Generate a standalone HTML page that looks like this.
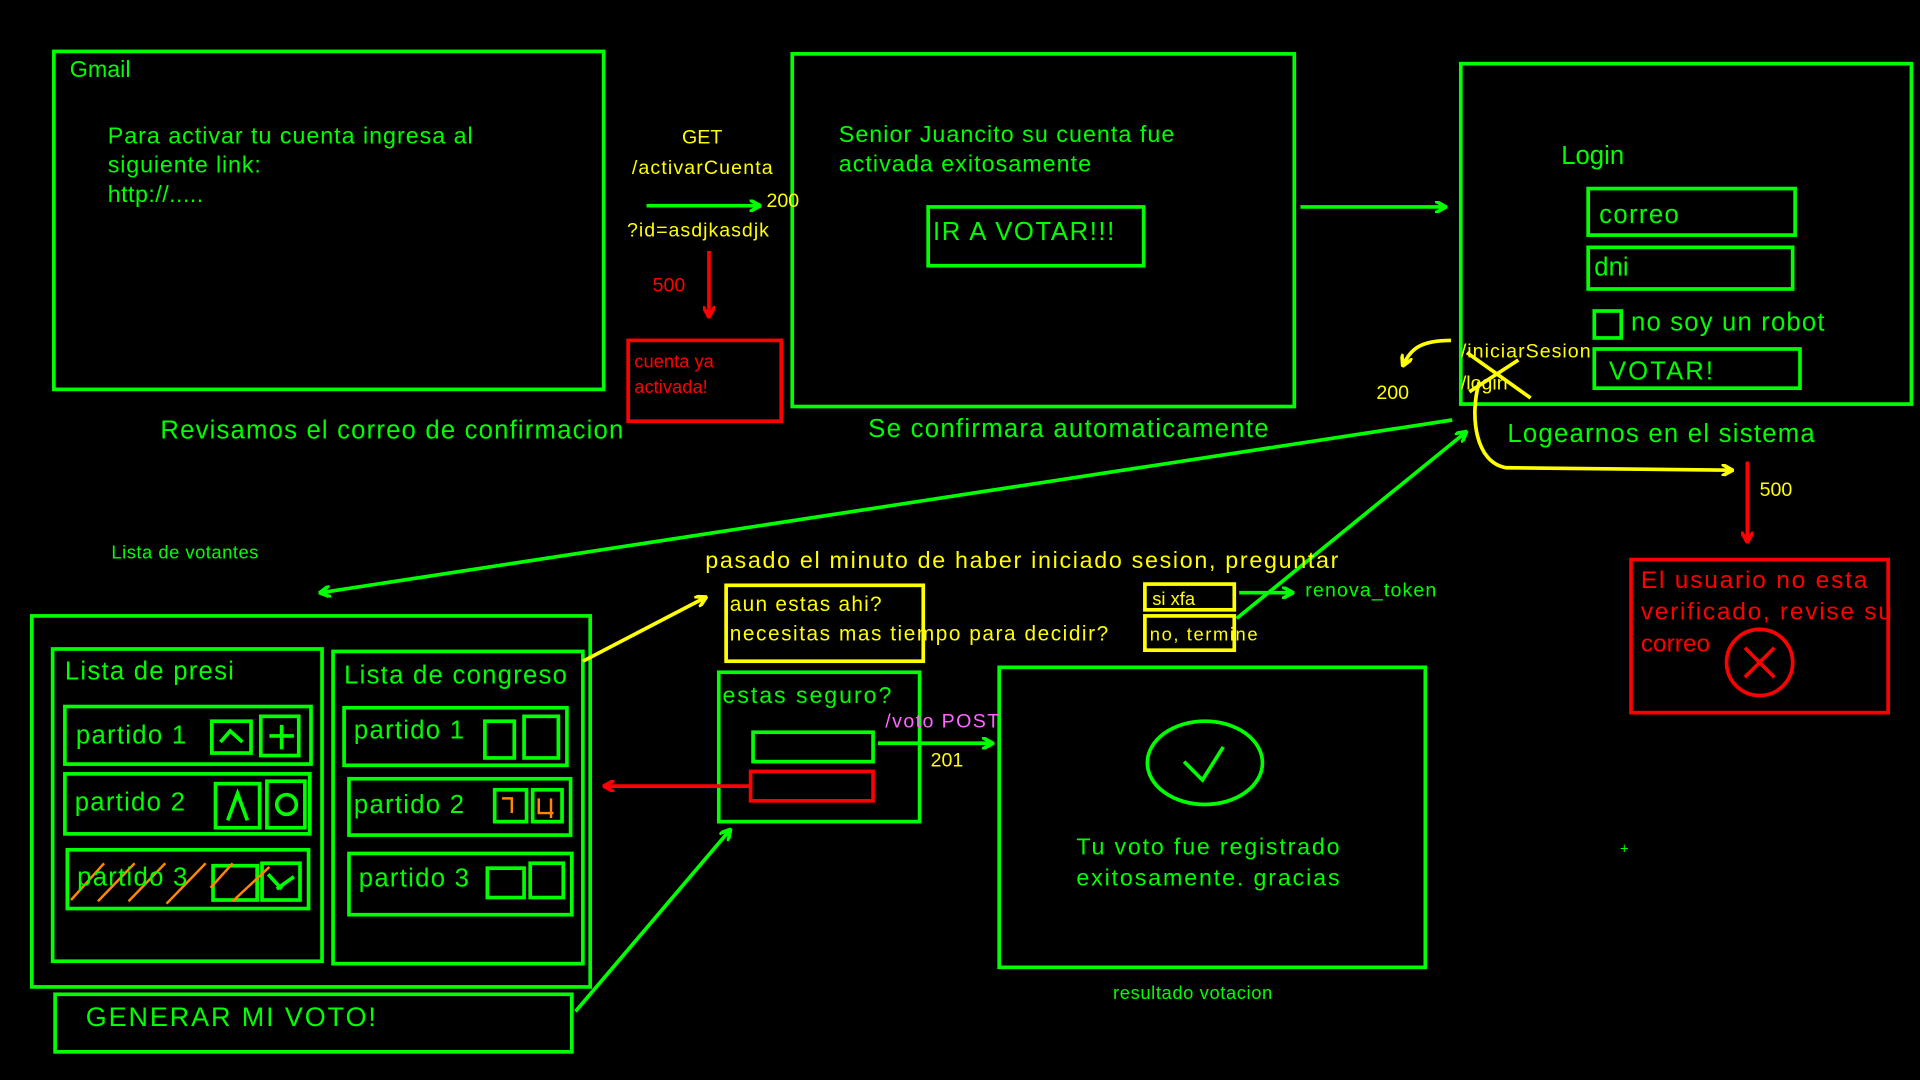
<!DOCTYPE html>
<html><head><meta charset="utf-8"><style>html,body{margin:0;padding:0;background:#000;overflow:hidden}svg{display:block}text{font-family:"Liberation Sans",sans-serif}</style></head>
<body>
<svg width="1920" height="1080" viewBox="0 0 1568 882" xmlns="http://www.w3.org/2000/svg">
<defs>
<marker id="ag" markerWidth="10" markerHeight="10" refX="8" refY="5" orient="auto" markerUnits="userSpaceOnUse"><path d="M0,0 L9,5 L0,10" fill="none" stroke="#00ff00" stroke-width="3"/></marker>
<marker id="ar" markerWidth="10" markerHeight="10" refX="8" refY="5" orient="auto" markerUnits="userSpaceOnUse"><path d="M0,0 L9,5 L0,10" fill="none" stroke="#ff0000" stroke-width="3"/></marker>
<marker id="ay" markerWidth="10" markerHeight="10" refX="8" refY="5" orient="auto" markerUnits="userSpaceOnUse"><path d="M0,0 L9,5 L0,10" fill="none" stroke="#ffff00" stroke-width="3"/></marker>
</defs>
<rect width="1568" height="882" fill="#000"/>
<g fill="none" stroke="#00ff00" stroke-width="3">
<rect x="44" y="42" width="449" height="276"/>
<rect x="647" y="44" width="410" height="288"/>
<rect x="758" y="169" width="176" height="48"/>
<rect x="1193" y="52" width="368" height="278"/>
<rect x="1297" y="154" width="169" height="38"/>
<rect x="1297" y="202" width="167" height="34"/>
<rect x="1302" y="254" width="22" height="22"/>
<rect x="1302" y="285" width="168" height="32"/>
<rect x="26" y="503" width="456" height="303"/>
<rect x="43" y="530" width="220" height="255"/>
<rect x="272" y="532" width="204" height="255"/>
<rect x="53" y="577" width="201" height="47"/>
<rect x="173" y="589" width="32" height="26"/>
<rect x="213" y="585" width="31" height="32"/>
<rect x="53" y="632" width="200" height="49"/>
<rect x="176" y="640" width="36" height="36"/>
<rect x="218" y="638" width="31" height="38"/>
<rect x="55" y="694" width="197" height="48"/>
<rect x="174" y="707" width="36" height="28"/>
<rect x="214" y="705" width="31" height="30"/>
<rect x="281" y="578" width="182" height="47"/>
<rect x="396" y="589" width="24" height="30"/>
<rect x="428" y="585" width="28" height="34"/>
<rect x="285" y="636" width="181" height="46"/>
<rect x="404" y="645" width="26" height="26"/>
<rect x="435" y="645" width="24" height="26"/>
<rect x="285" y="697" width="182" height="50"/>
<rect x="398" y="709" width="30" height="24"/>
<rect x="433" y="705" width="27" height="28"/>
<rect x="45" y="812" width="422" height="47"/>
<rect x="587" y="549" width="164" height="122"/>
<rect x="615" y="598" width="98" height="24"/>
<rect x="816" y="545" width="348" height="245"/>
<ellipse cx="984" cy="623" rx="47" ry="34"/>
<path d="M967,622 L982,637 L999,610"/>
<path d="M180,606 L188,597 L198,606 M230,592 L230,612 M220,601 L240,601 M186,670 L194,648 L202,670 M219,714 L230,726 M226,726 L240,716"/>
<circle cx="234" cy="657" r="8"/>
</g>
<g fill="none" stroke="#ff0000" stroke-width="3">
<rect x="513" y="278" width="125" height="66"/>
<rect x="1332" y="457" width="210" height="125"/>
<rect x="613" y="630" width="100" height="24"/>
<circle cx="1437" cy="541" r="27"/>
<path d="M1425,529 L1449,553 M1449,529 L1425,553"/>
</g>
<g fill="none" stroke="#ffff00" stroke-width="3">
<rect x="593" y="478" width="161" height="62"/>
<rect x="935" y="477" width="73" height="21"/>
<rect x="935" y="503" width="73" height="28"/>
</g>
<g fill="none" stroke="#ff8800" stroke-width="2">
<path d="M58,735 L85,705 M80,736 L110,705 M105,736 L135,705 M136,738 L168,705 M172,725 L190,705 M190,736 L220,708"/>
<path d="M410,652 L418,652 L418,664 M440,652 L440,664 L452,664 M450,652 L450,668"/>
</g>
<g fill="none" stroke-width="3">
<path d="M528,168 L620,168" stroke="#00ff00" marker-end="url(#ag)"/>
<path d="M579,205 L579,258" stroke="#ff0000" marker-end="url(#ar)"/>
<path d="M1062,169 L1180,169" stroke="#00ff00" marker-end="url(#ag)"/>
<path d="M1186,343 L262,484" stroke="#00ff00" marker-end="url(#ag)"/>
<path d="M1010,505 L1197,353" stroke="#00ff00" marker-end="url(#ag)"/>
<path d="M1012,484 L1055,484" stroke="#00ff00" marker-end="url(#ag)"/>
<path d="M470,826 L596,678" stroke="#00ff00" marker-end="url(#ag)"/>
<path d="M717,607 L810,607" stroke="#00ff00" marker-end="url(#ag)"/>
<path d="M612,642 L494,642" stroke="#ff0000" marker-end="url(#ar)"/>
<path d="M1427,377 L1427,442" stroke="#ff0000" marker-end="url(#ar)"/>
<path d="M476,540 L576,488" stroke="#ffff00" marker-end="url(#ay)"/>
<path d="M1185,278 C1160,278 1152,285 1146,298" stroke="#ffff00" marker-end="url(#ay)"/>
<path d="M1208,312 C1200,340 1205,378 1230,382 L1414,384" stroke="#ffff00" marker-end="url(#ay)"/>
<path d="M1198,288 L1250,325 M1200,320 L1240,294" stroke="#ffff00"/>
</g>
<g fill="#00ff00" font-size="19">
<text x="57" y="63">Gmail</text>
<text x="88" y="117" textLength="298">Para activar tu cuenta ingresa al</text>
<text x="88" y="141" textLength="125">siguiente link:</text>
<text x="88" y="165" textLength="78">http://.....</text>
<text x="131" y="358" font-size="21" textLength="378">Revisamos el correo de confirmacion</text>
<text x="685" y="116" textLength="274">Senior Juancito su cuenta fue</text>
<text x="685" y="140" textLength="206">activada exitosamente</text>
<text x="762" y="196" font-size="21" textLength="148">IR A VOTAR!!!</text>
<text x="709" y="357" font-size="21" textLength="327">Se confirmara automaticamente</text>
<text x="1275" y="134" font-size="21">Login</text>
<text x="1306" y="182" font-size="21" textLength="65">correo</text>
<text x="1302" y="225" font-size="21">dni</text>
<text x="1332" y="270" font-size="21" textLength="158">no soy un robot</text>
<text x="1314" y="310" font-size="21" textLength="85">VOTAR!</text>
<text x="1231" y="361" font-size="21" textLength="251">Logearnos en el sistema</text>
<text x="91" y="456" font-size="15" textLength="120">Lista de votantes</text>
<text x="53" y="555" font-size="21" textLength="138">Lista de presi</text>
<text x="281" y="558" font-size="21" textLength="182">Lista de congreso</text>
<text x="62" y="607" font-size="21" textLength="90">partido 1</text>
<text x="61" y="662" font-size="21" textLength="90">partido 2</text>
<text x="63" y="723" font-size="21" textLength="90">partido 3</text>
<text x="289" y="603" font-size="21" textLength="90">partido 1</text>
<text x="289" y="664" font-size="21" textLength="90">partido 2</text>
<text x="293" y="724" font-size="21" textLength="90">partido 3</text>
<text x="70" y="838" font-size="22" textLength="237">GENERAR MI VOTO!</text>
<text x="590" y="574" font-size="19" textLength="138">estas seguro?</text>
<text x="1066" y="487" font-size="16" textLength="107">renova_token</text>
<text x="879" y="698" textLength="215">Tu voto fue registrado</text>
<text x="879" y="723" textLength="215">exitosamente. gracias</text>
<text x="909" y="816" font-size="15" textLength="130">resultado votacion</text>
<text x="1323" y="697" font-size="12">+</text>
</g>
<g fill="#ffff00" font-size="16">
<text x="557" y="117">GET</text>
<text x="516" y="142" textLength="115">/activarCuenta</text>
<text x="626" y="169">200</text>
<text x="512" y="193" textLength="116">?id=asdjkasdjk</text>
<text x="1193" y="292" textLength="106">/iniciarSesion</text>
<text x="1193" y="318">/login</text>
<text x="1124" y="326">200</text>
<text x="1437" y="405">500</text>
<text x="576" y="464" font-size="19" textLength="517">pasado el minuto de haber iniciado sesion, preguntar</text>
<text x="596" y="499" font-size="17" textLength="124">aun estas ahi?</text>
<text x="596" y="523" font-size="17" textLength="309">necesitas mas tiempo para decidir?</text>
<text x="941" y="494" font-size="15">si xfa</text>
<text x="939" y="523" font-size="15" textLength="88">no, termine</text>
<text x="760" y="626">201</text>
</g>
<g fill="#ff0000">
<text x="533" y="238" font-size="16">500</text>
<text x="518" y="300" font-size="15">cuenta ya</text>
<text x="518" y="321" font-size="15">activada!</text>
<text x="1340" y="480" font-size="20" textLength="185">El usuario no esta</text>
<text x="1340" y="506" font-size="20" textLength="205">verificado, revise su</text>
<text x="1340" y="532" font-size="20">correo</text>
</g>
<text x="723" y="594" font-size="16" fill="#ff66ff" textLength="93">/voto POST</text>
</svg>
</body></html>
